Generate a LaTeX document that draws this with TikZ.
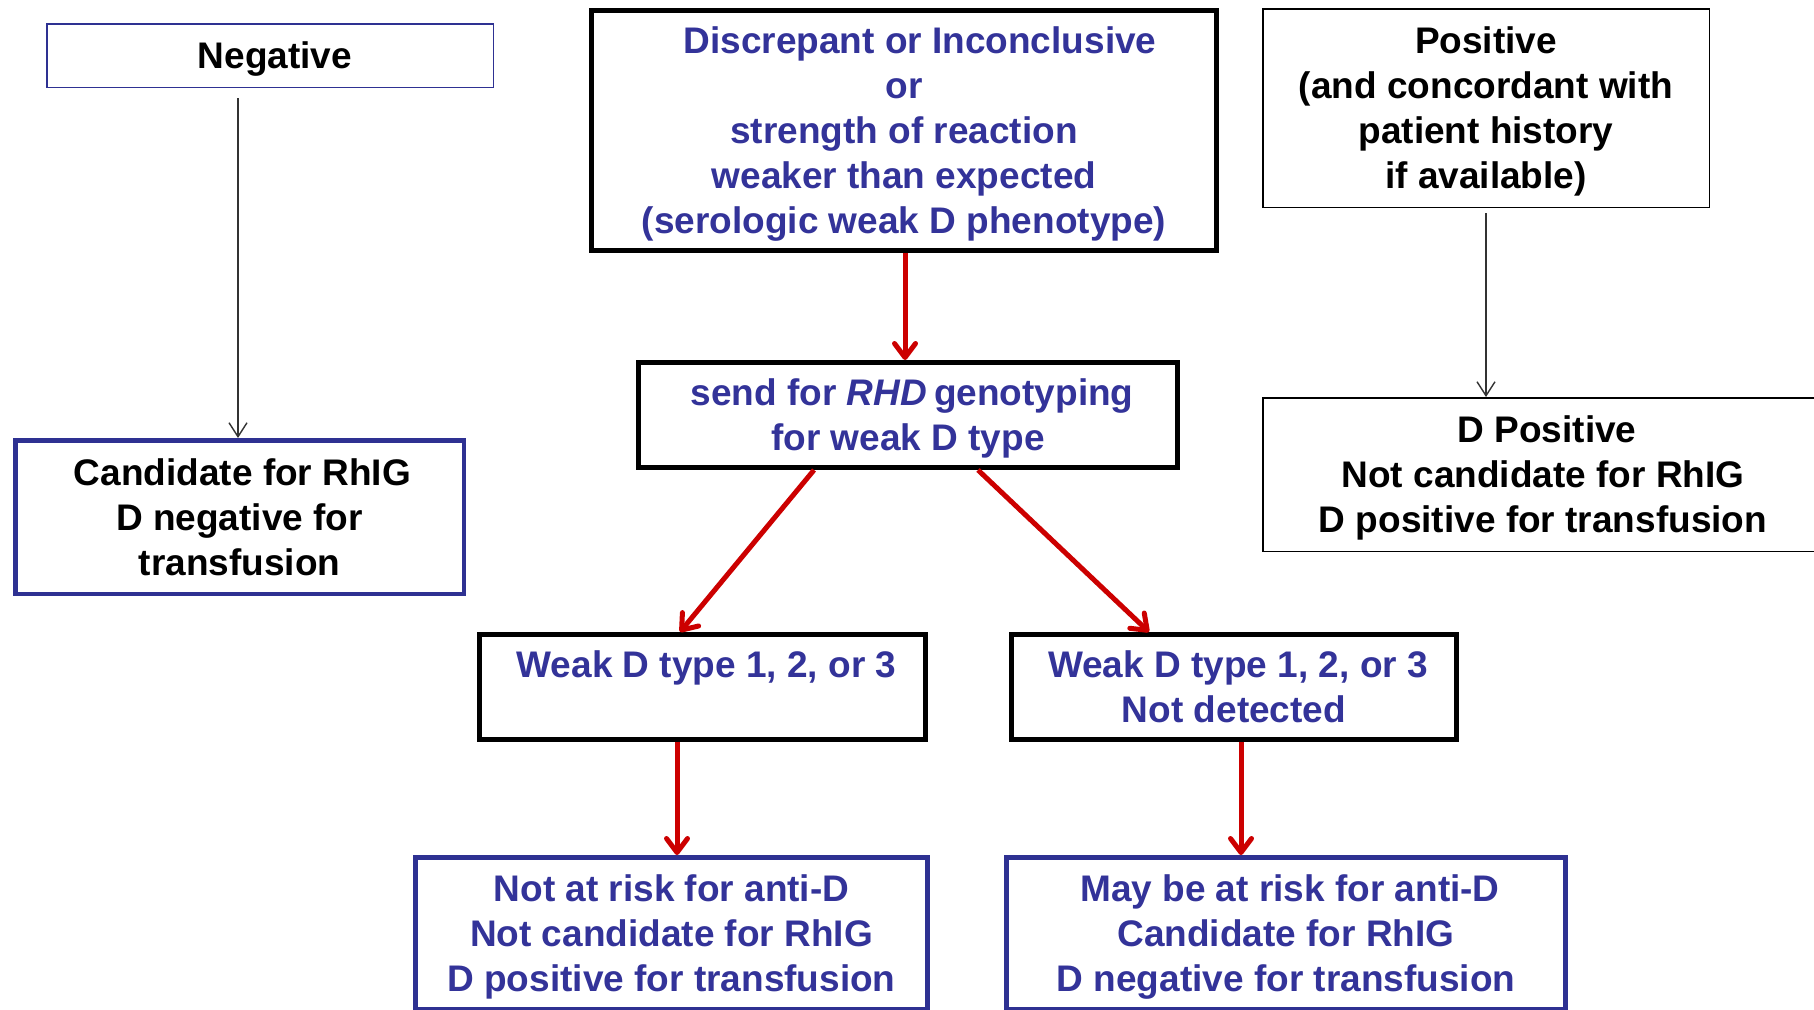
\documentclass[tikz,border=0pt]{standalone}
\usepackage{fontspec}
\setmainfont{Liberation Sans}
\usetikzlibrary{arrows.meta}
\definecolor{tblue}{HTML}{333399}
\definecolor{bblue}{HTML}{2E3192}
\definecolor{ared}{HTML}{CC0000}
\newcommand{\lns}{\rule[-9.2pt]{0pt}{45pt}}
\tikzset{
 box/.style={draw, inner sep=0pt, align=center, font=\bfseries\fontsize{37}{45}\selectfont},
 thinblack/.style={box, line width=1.5pt, draw=black, text=black},
 thinblue/.style={box, line width=1.5pt, draw=bblue, text=black},
 candblue/.style={box, line width=4.5pt, draw=bblue, text=black},
 thickblue/.style={box, line width=5pt, draw=bblue, text=tblue},
 thickblack/.style={box, line width=5pt, draw=black, text=tblue},
 redarrow/.style={draw=ared, line width=5pt, -{Straight Barb[length=14pt,width=21pt,round]}},
 thinarrow/.style={draw=black!80, line width=1.4pt, -{Straight Barb[length=14pt,width=18pt]}},
}
\begin{document}
\begin{tikzpicture}[x=1pt,y=-1pt]
\useasboundingbox (0,0) rectangle (1814,1009);
\fill[white] (0,0) rectangle (1814,1009);
\clip (0,0) rectangle (1814,1009);

\node[thinblue, minimum width=446.5pt, minimum height=63.5pt] (neg) at (270,55.5) {\hspace*{10pt}\lns Negative};
\node[candblue, minimum width=448.5pt, minimum height=153.5pt] (cand) at (239.5,517) {\hspace*{6pt}\lns Candidate for RhIG\\\lns D negative for\\\lns transfusion};

\node[thickblack, minimum width=625pt, minimum height=240pt] (disc) at (904,130.5)
 {\hspace*{32pt}\lns Discrepant or Inconclusive\\\lns or\\\lns strength of reaction\\\lns weaker than expected\\\lns (serologic weak D phenotype)};
\node[thickblack, minimum width=539pt, minimum height=105pt] (send) at (908,415)
 {\hspace*{8pt}\lns send for \textit{RHD}\hspace{-3pt} genotyping\\\lns for weak D type};

\node[thinblack, minimum width=446.5pt, minimum height=198.5pt] (pos) at (1486,108)
 {\lns Positive\\\lns (and concordant with\\\lns patient history\\\lns if available)};
\node[thinblack, minimum width=560.5pt, minimum height=153.5pt] (dpos) at (1543,474.5)
 {\hspace*{8pt}\lns D Positive\\\lns Not candidate for RhIG\\\lns D positive for transfusion};

\node[thickblack, minimum width=446pt, minimum height=105pt] (weakl) at (702.5,687)
 {\hspace*{8pt}\lns Weak D type 1, 2, or 3\\\lns};
\node[thickblack, minimum width=445pt, minimum height=105pt] (weakr) at (1234,687)
 {\hspace*{8pt}\lns Weak D type 1, 2, or 3\\\lns Not detected};

\node[thickblue, minimum width=512pt, minimum height=152pt] (botl) at (671.5,933.5)
 {\lns Not at risk for anti-D\\\lns Not candidate for RhIG\\\lns D positive for transfusion};
\node[thickblue, minimum width=559pt, minimum height=152pt] (botr) at (1286,933.5)
 {\hspace*{8pt}\lns May be at risk for anti-D\\\lns Candidate for RhIG\\\lns D negative for transfusion};

\draw[thinarrow, shorten <=10pt] ([xshift=-32pt]neg.south) -- ([xshift=-32pt]neg.south |- cand.north);
\draw[thinarrow, shorten <=5pt] (pos.south) -- (pos.south |- dpos.north);

\draw[redarrow] ([xshift=1pt]disc.south) -- ([xshift=1pt]disc.south |- send.north);
\draw[redarrow] ([xshift=-94pt]send.south) -- ([xshift=-22.5pt]weakl.north);
\draw[redarrow] ([xshift=70pt]send.south) -- ([xshift=-85pt]weakr.north);
\draw[redarrow] ([xshift=-25.5pt]weakl.south) -- ([xshift=-25.5pt]weakl.south |- botl.north);
\draw[redarrow] ([xshift=7pt]weakr.south) -- ([xshift=7pt]weakr.south |- botr.north);
\end{tikzpicture}
\end{document}
